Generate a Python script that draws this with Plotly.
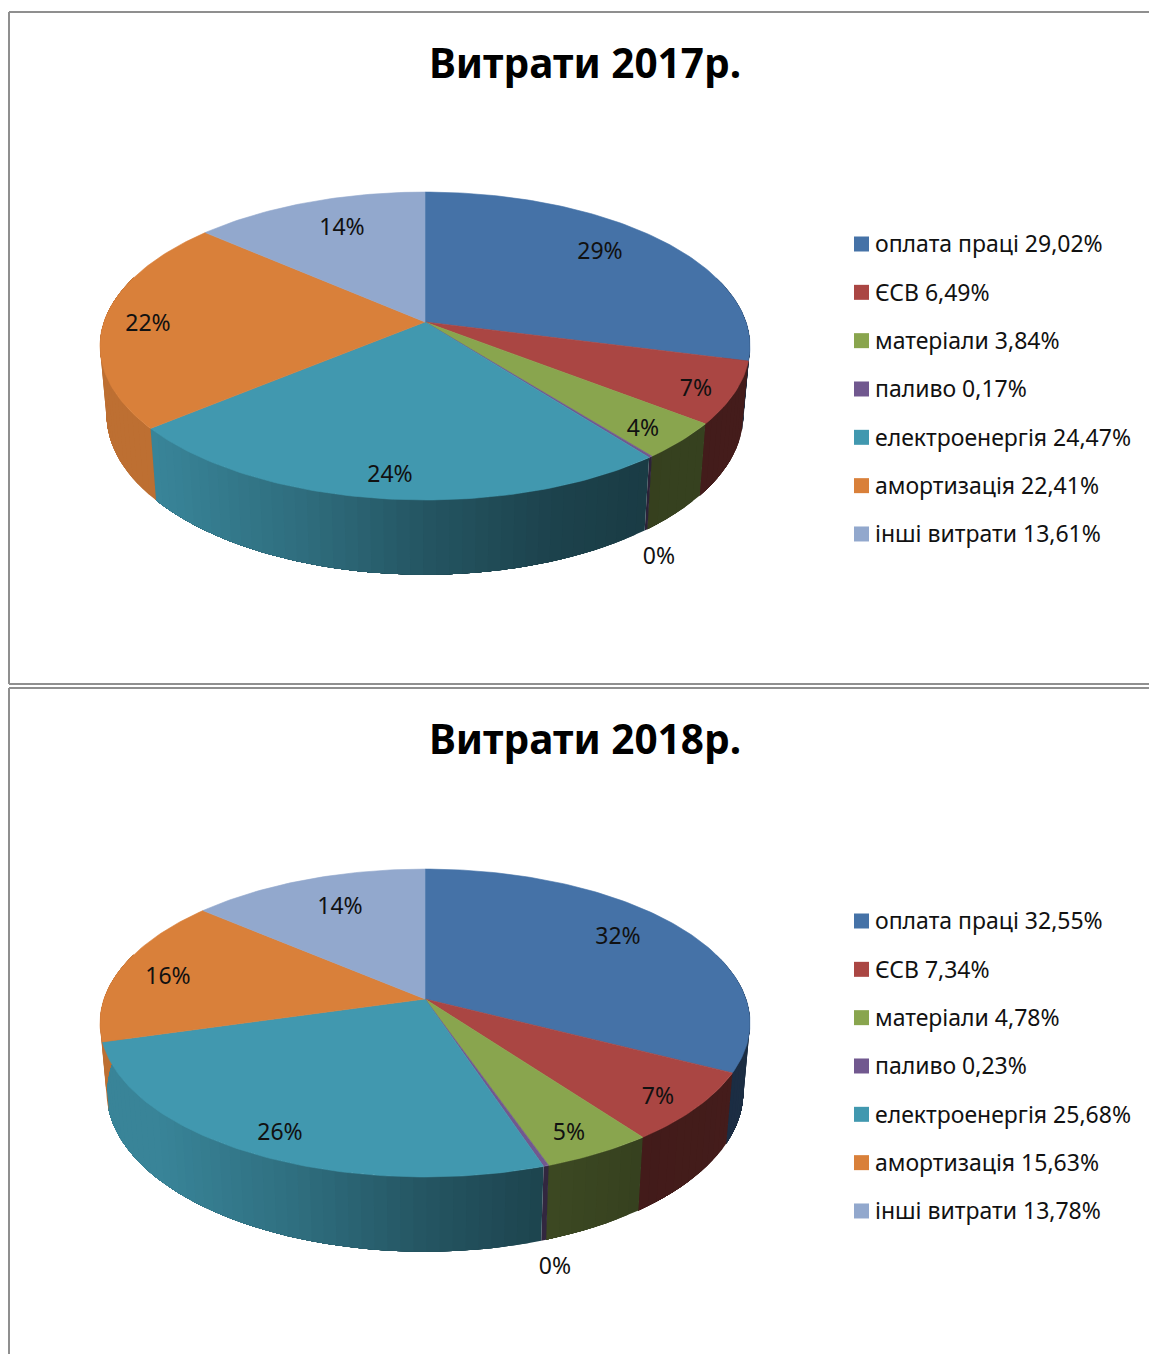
import numpy as np
import plotly.graph_objects as go

# ---- data ----
categories = ["оплата праці", "ЄСВ", "матеріали", "паливо", "електроенергія", "амортизація", "інші витрати"]
values_2017 = [29.02, 6.49, 3.84, 0.17, 24.47, 22.41, 13.61]
values_2018 = [32.55, 7.34, 4.78, 0.23, 25.68, 15.63, 13.78]
labels_2017 = ["29%", "7%", "4%", "0%", "24%", "22%", "14%"]
labels_2018 = ["32%", "7%", "5%", "0%", "26%", "16%", "14%"]
title_2017 = "Витрати 2017р."
title_2018 = "Витрати 2018р."

# ---- style / layout ----
colors = ["#4572A7", "#AA4643", "#89A54E", "#71588F", "#4198AF", "#D9803A", "#92A8CD"]
FONT = "Noto Sans"
LABEL_SIZE = 23
TEXT_DY = 2.5
label_anchor_2017 = [(600, 251), (696, 388), (643, 428), (659, 556), (390, 474), (148, 323), (342, 227)]
label_anchor_2018 = [(618, 936), (658, 1096), (569, 1132), (555, 1266), (280, 1132), (168, 976), (340, 906)]
CX, A, B, P = 425, 321.0, 150.2, 0.156
DROP, SHRINK_X, SCALE_Y = 67.6, 0.98, 1.04


def hex_rgb(h):
    return [int(h[i:i + 2], 16) for i in (1, 3, 5)]


def shade(h, f):
    return "rgb(%d,%d,%d)" % tuple(int(round(c * f)) for c in hex_rgb(h))


def project(theta, cy):
    u, v = np.sin(theta), -np.cos(theta)
    d = 1 - P * v
    return CX + A * u / d, cy + B * v / d


def project_bottom(theta, cy):
    x, y = project(theta, cy)
    return CX + (x - CX) * SHRINK_X, cy + DROP + (y - cy) * SCALE_Y


def brightness(x):
    return float(np.interp(x, [100, 156, 300, 425, 550, 650, 750],
                           [0.87, 0.87, 0.72, 0.56, 0.44, 0.39, 0.40]))


fig = go.Figure()


def add_pie(values, labels, anchors, title, cy, title_y, legend_y):
    fracs = np.array(values) / sum(values)
    edges = np.concatenate([[0], np.cumsum(fracs)]) * 2 * np.pi
    # side wall, drawn as shaded strips; each strip runs to the slice end and the next one covers it
    for i, col in enumerate(colors):
        a0, a1 = edges[i], edges[i + 1]
        lo, hi = max(a0, np.pi * 0.40), min(a1, np.pi * 1.60)
        if hi <= lo:
            continue
        n = max(1, int((hi - lo) / np.radians(2.0)))
        cuts = np.linspace(lo, hi, n + 1)
        for s in range(n):
            th = np.linspace(cuts[s], hi, max(2, n - s + 1))
            xt, yt = project(th, cy)
            xb, yb = project_bottom(th, cy)
            xs = np.concatenate([xt, xb[::-1], xt[:1]])
            ys = np.concatenate([yt, yb[::-1], yt[:1]])
            xm = float(project(np.array([(cuts[s] + cuts[s + 1]) / 2]), cy)[0][0])
            f = shade(col, brightness(xm))
            fig.add_trace(go.Scatter(x=xs, y=ys, mode="lines", fill="toself", fillcolor=f,
                                     line=dict(width=0), hoverinfo="skip", showlegend=False))
    # top faces
    for i, col in enumerate(colors):
        th = np.linspace(edges[i], edges[i + 1], max(3, int(fracs[i] * 360)))
        xa, ya = project(th, cy)
        fig.add_trace(go.Scatter(x=np.concatenate([[CX], xa, [CX]]), y=np.concatenate([[cy], ya, [cy]]),
                                 mode="lines", fill="toself", fillcolor=col, line=dict(color=col, width=0.6),
                                 name=categories[i], text=f"{categories[i]} {values[i]}%".replace(".", ","),
                                 hoverinfo="text", showlegend=False))
    # data labels
    fig.add_trace(go.Scatter(x=[p[0] for p in anchors], y=[p[1] + TEXT_DY for p in anchors], mode="text", text=labels,
                             textposition="middle center", textfont=dict(family=FONT, size=LABEL_SIZE, color="#111"),
                             hoverinfo="skip", showlegend=False))
    # legend
    ly = [legend_y + k * 48.33 for k in range(len(categories))]
    fig.add_trace(go.Scatter(x=[861.5] * 7, y=ly, mode="markers", marker=dict(symbol="square", size=15, color=colors, line=dict(width=0)),
                             hoverinfo="skip", showlegend=False))
    legend_text = [f"{c} {v:.2f}%".replace(".", ",") for c, v in zip(categories, values)]
    fig.add_trace(go.Scatter(x=[875] * 7, y=[y + TEXT_DY for y in ly], mode="text", text=legend_text, textposition="middle right",
                             textfont=dict(family=FONT, size=LABEL_SIZE, color="#111"), hoverinfo="skip", showlegend=False))
    # title
    fig.add_annotation(x=585, y=title_y, text=f"<b>{title}</b>", showarrow=False, xanchor="center", yanchor="middle",
                       font=dict(family=FONT, size=40.5, color="#000"))


add_pie(values_2017, labels_2017, label_anchor_2017, title_2017, 322, 62, 244)
add_pie(values_2018, labels_2018, label_anchor_2018, title_2018, 999, 738, 921)

frame = dict(color="#8f8f8f", width=2)
for x0, y0, x1, y1 in [(9, 12, 1149, 12), (9, 12, 9, 684), (9, 684, 1149, 684), (9, 688, 1149, 688), (9, 688, 9, 1354)]:
    fig.add_shape(type="line", x0=x0, y0=y0, x1=x1, y1=y1, line=frame, layer="below")

fig.update_layout(
    width=1149, height=1354, margin=dict(l=0, r=0, t=0, b=0),
    paper_bgcolor="white", plot_bgcolor="white", showlegend=False,
    xaxis=dict(range=[0, 1149], visible=False, fixedrange=True),
    yaxis=dict(range=[1354, 0], visible=False, fixedrange=True),
)
fig.write_html("out.html", config=dict(displayModeBar=False),
               post_script="document.body.style.margin='0';document.body.style.overflow='hidden';")
